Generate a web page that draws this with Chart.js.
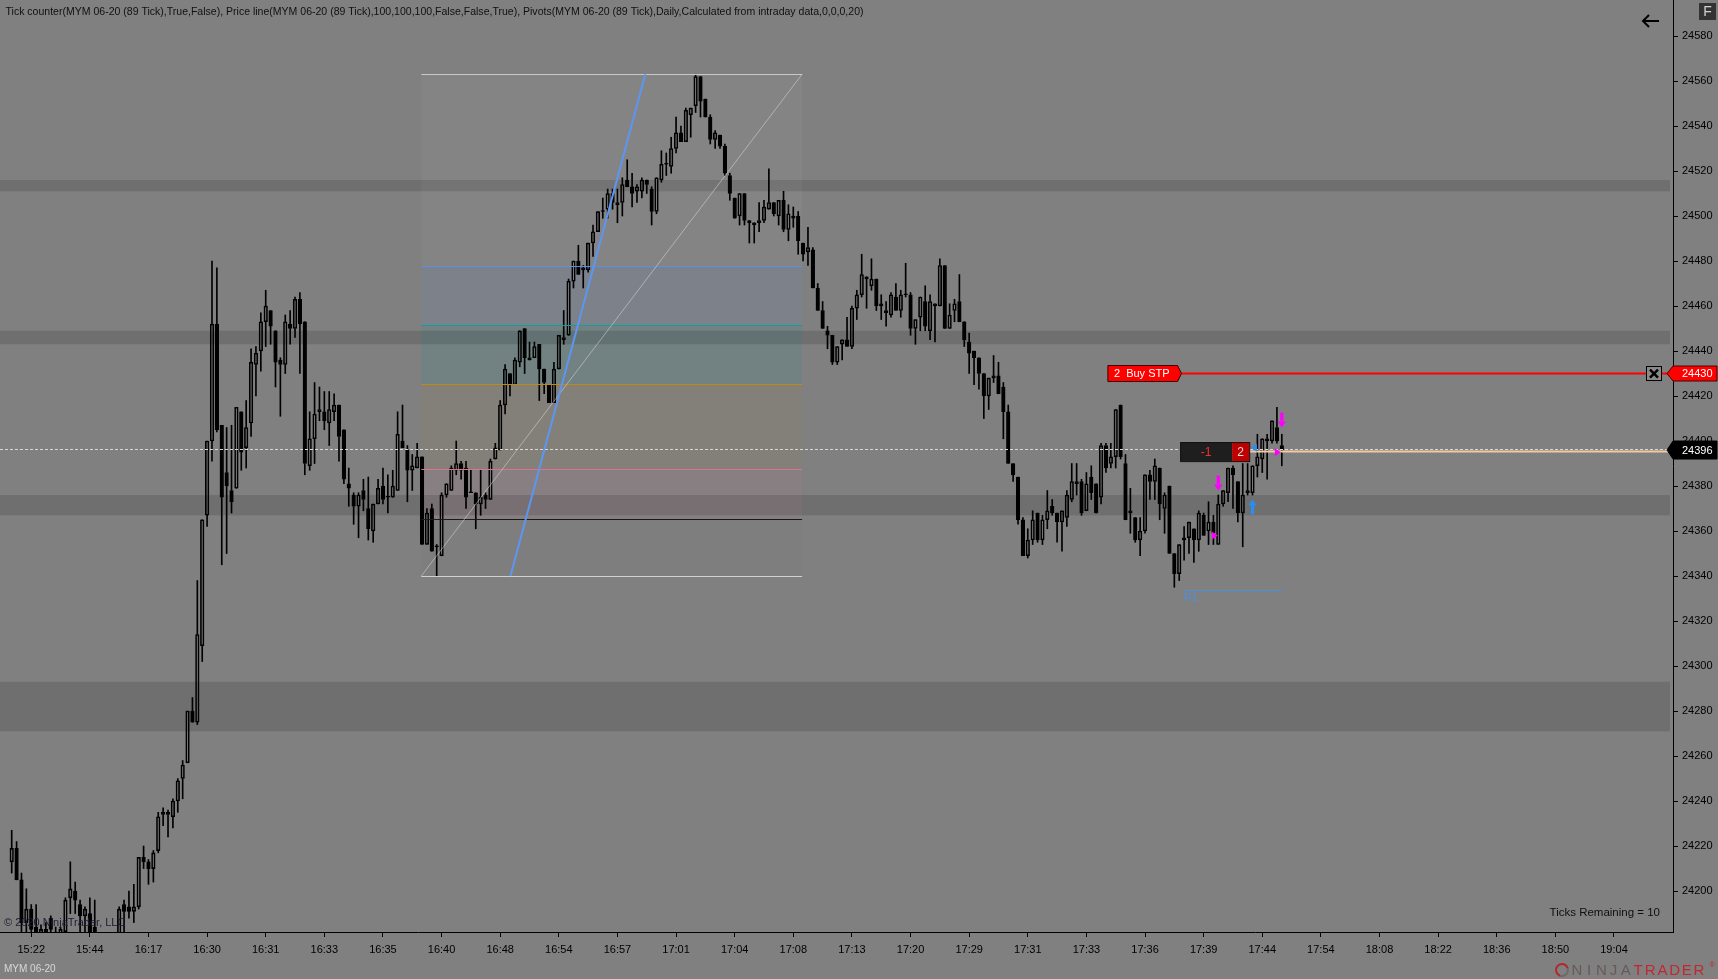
<!DOCTYPE html>
<html><head><meta charset="utf-8">
<script src="https://cdn.jsdelivr.net/npm/chart.js@4/dist/chart.umd.min.js"></script>
<style>html,body{margin:0;padding:0;background:#808080;overflow:hidden}canvas{display:block}</style>
</head><body>
<canvas id="c" width="1718" height="979" style="width:1718px;height:979px"></canvas>
<script>
// ---------------- DATA ----------------
const open = [
24213,24219,24205,24186,24192,24184,24181,24183,24188,24180,
24178,24182,24197,24200,24194,24189,24190,24184,24178,24172,
24175,24170,24180,24194,24193,24191,24193,24215,24213,24210,
24218,24234,24235,24233,24240,24250,24257,24280,24275,24309,
24367,24400,24452,24407,24386,24378,24379,24413,24397,24408,
24434,24440,24453,24458,24449,24436,24434,24452,24450,24463,
24453,24389,24401,24413,24413,24408,24413,24416,24405,24381,
24376,24371,24378,24370,24360,24372,24380,24375,24375,24378,
24400,24396,24387,24388,24393,24354,24370,24353,24349,24376,
24378,24387,24390,24388,24377,24377,24372,24376,24374,24392,
24396,24416,24430,24425,24435,24450,24436,24437,24443,24432,
24425,24417,24432,24445,24447,24471,24480,24476,24476,24488,
24493,24502,24503,24510,24505,24506,24516,24513,24511,24511,
24516,24512,24502,24516,24523,24522,24530,24537,24533,24545,
24549,24562,24552,24544,24534,24536,24531,24518,24508,24500,
24510,24498,24497,24497,24498,24503,24506,24500,24507,24494,
24500,24500,24488,24484,24485,24468,24458,24449,24447,24435,
24443,24445,24442,24459,24465,24473,24469,24472,24461,24458,
24456,24464,24458,24465,24465,24450,24455,24462,24449,24461,
24460,24478,24450,24458,24462,24453,24444,24440,24437,24430,
24420,24428,24429,24424,24413,24390,24384,24365,24349,24356,
24368,24356,24365,24371,24368,24364,24366,24374,24382,24382,
24369,24384,24381,24375,24398,24390,24393,24416,24390,24368,
24366,24356,24360,24385,24382,24388,24370,24380,24350,24341,
24356,24357,24361,24356,24367,24360,24364,24354,24372,24377,
24388,24382,24368,24377,24377,24389,24392,24401,24400,24406,
24398];
const high = [
24227,24222,24208,24201,24194,24194,24185,24186,24189,24184,
24184,24197,24213,24204,24196,24193,24197,24196,24181,24178,
24180,24179,24193,24196,24200,24203,24215,24220,24214,24218,
24235,24237,24236,24241,24250,24258,24280,24286,24338,24365,
24400,24480,24477,24407,24406,24407,24415,24413,24418,24441,
24442,24457,24467,24458,24449,24437,24456,24458,24464,24466,
24453,24413,24426,24424,24422,24422,24421,24416,24405,24388,
24377,24377,24383,24384,24372,24383,24388,24385,24387,24413,
24416,24398,24394,24399,24393,24370,24372,24354,24377,24381,
24389,24400,24391,24391,24387,24377,24387,24377,24392,24399,
24418,24434,24430,24437,24449,24450,24444,24444,24443,24432,
24425,24435,24447,24458,24472,24480,24487,24478,24488,24496,
24502,24508,24512,24512,24512,24517,24525,24519,24514,24517,
24516,24513,24517,24529,24528,24535,24544,24540,24548,24548,
24563,24562,24552,24545,24538,24536,24532,24519,24508,24510,
24510,24498,24497,24506,24507,24521,24506,24507,24511,24505,
24504,24502,24488,24495,24486,24470,24462,24451,24447,24442,
24445,24455,24460,24467,24483,24473,24481,24472,24465,24462,
24466,24470,24467,24479,24466,24454,24464,24469,24465,24461,
24481,24478,24461,24463,24474,24453,24448,24440,24437,24430,
24428,24438,24435,24426,24416,24390,24384,24366,24361,24369,
24368,24367,24378,24374,24368,24369,24378,24390,24390,24383,
24386,24389,24381,24399,24399,24399,24414,24416,24394,24379,
24366,24366,24385,24387,24392,24388,24377,24380,24350,24354,
24362,24364,24361,24369,24368,24373,24367,24376,24378,24388,
24389,24382,24390,24390,24389,24403,24401,24403,24409,24415,
24403];
const low = [
24208,24205,24180,24180,24178,24178,24176,24175,24178,24174,
24175,24180,24190,24190,24180,24180,24178,24176,24168,24165,
24168,24166,24178,24182,24188,24186,24192,24210,24203,24204,
24217,24229,24224,24228,24235,24241,24257,24275,24274,24302,
24362,24391,24404,24345,24350,24368,24379,24387,24388,24402,
24420,24431,24442,24443,24424,24411,24430,24443,24446,24430,
24385,24387,24390,24409,24405,24398,24409,24391,24381,24371,
24363,24357,24369,24356,24355,24372,24372,24368,24375,24378,
24397,24373,24378,24388,24354,24354,24351,24340,24349,24375,
24378,24385,24383,24370,24377,24361,24367,24370,24374,24392,
24396,24412,24420,24425,24433,24430,24436,24437,24418,24421,
24417,24417,24432,24443,24447,24468,24474,24468,24475,24482,
24493,24499,24499,24503,24497,24500,24513,24504,24506,24508,
24510,24496,24501,24515,24518,24519,24528,24533,24533,24535,
24546,24544,24544,24532,24530,24530,24518,24507,24499,24496,
24496,24488,24488,24493,24497,24503,24500,24496,24493,24489,
24495,24483,24480,24478,24468,24458,24450,24441,24434,24434,
24436,24442,24441,24454,24464,24459,24467,24458,24454,24451,
24455,24458,24455,24464,24447,24443,24449,24449,24445,24444,
24460,24450,24450,24453,24453,24442,24430,24425,24423,24410,
24414,24426,24421,24401,24390,24382,24363,24349,24348,24354,
24355,24354,24361,24367,24355,24351,24362,24373,24376,24367,
24369,24374,24368,24372,24386,24388,24388,24392,24365,24359,
24355,24349,24359,24374,24374,24365,24359,24350,24335,24338,
24347,24350,24346,24351,24358,24354,24354,24354,24371,24373,
24370,24364,24353,24376,24376,24384,24386,24383,24399,24399,
24389];
const close = [
24219,24205,24186,24192,24183,24182,24183,24180,24183,24178,
24183,24196,24201,24196,24189,24192,24182,24180,24172,24175,
24170,24178,24192,24191,24191,24193,24215,24213,24210,24217,
24233,24235,24234,24240,24249,24256,24280,24275,24314,24365,
24400,24452,24405,24375,24380,24373,24415,24395,24406,24435,
24439,24453,24460,24451,24435,24434,24453,24450,24463,24452,
24390,24401,24412,24414,24409,24414,24416,24402,24383,24379,
24371,24376,24374,24361,24372,24379,24374,24375,24380,24403,
24397,24387,24389,24393,24354,24368,24351,24353,24376,24381,
24388,24390,24387,24375,24377,24372,24375,24374,24391,24397,
24416,24432,24425,24436,24449,24437,24437,24442,24432,24426,
24417,24432,24447,24446,24471,24480,24474,24477,24488,24493,
24502,24502,24510,24506,24506,24514,24513,24510,24513,24516,
24514,24502,24517,24523,24523,24530,24537,24533,24547,24548,
24562,24551,24544,24534,24537,24531,24519,24510,24499,24510,
24498,24497,24496,24498,24504,24506,24501,24507,24494,24501,
24499,24489,24483,24486,24468,24458,24450,24447,24435,24442,
24445,24442,24459,24465,24474,24472,24472,24460,24460,24457,
24465,24458,24465,24465,24450,24454,24464,24451,24462,24460,
24478,24450,24456,24461,24453,24445,24439,24437,24430,24420,
24428,24429,24421,24413,24390,24385,24365,24349,24356,24365,
24356,24365,24369,24368,24364,24369,24376,24382,24381,24368,
24381,24377,24368,24398,24388,24393,24414,24393,24365,24369,
24356,24360,24385,24382,24389,24372,24376,24350,24341,24354,
24357,24364,24356,24368,24358,24364,24359,24372,24378,24388,
24385,24368,24376,24378,24389,24393,24401,24400,24409,24400,
24396];

const timeLabels = ['15:22','15:44','16:17','16:30','16:31','16:33','16:35','16:40','16:48','16:54','16:57','17:01','17:04','17:08','17:13','17:20','17:29','17:31','17:33','17:36','17:39','17:44','17:54','18:08','18:22','18:36','18:50','19:04'];
const priceTicks = [24200,24220,24240,24260,24280,24300,24320,24340,24360,24380,24400,24420,24440,24460,24480,24500,24520,24540,24560,24580];
const pivotBandHigh = [24516, 24449, 24376, 24293];
const pivotBandLow  = [24511, 24443, 24367, 24271];
const fibLevels = [0, 0.382, 0.5, 0.618, 0.786, 0.886, 1];
const fibAnchorIdx = [83.85, 161.8];
const fibAnchorPrice = [24340, 24563];
const trendIdx = [102.1, 129.7];
const trendPrice = [24340, 24563];
const lastPrice = 24396;
const buyStopPrice = 24430;
const buyStopQty = 2;
const positionQty = 2;
const positionPnl = -1;
const avgPrice = 24395.3;
const pivotR1 = 24334;
const pivotR1Idx = [240, 260];
const buyArrowIdx = [254];  const buyArrowPrice = [24374];
const sellArrowIdx = [247, 260]; const sellArrowPrice = [24378, 24406];
const sellFillIdx = [246.3, 259.2]; const sellFillPrice = [24358, 24395];
const buyFillIdx = [254.3]; const buyFillPrice = [24397];
const ticksRemaining = 10;
const titleText = 'Tick counter(MYM 06-20 (89 Tick),True,False), Price line(MYM 06-20 (89 Tick),100,100,100,False,False,True), Pivots(MYM 06-20 (89 Tick),Daily,Calculated from intraday data,0,0,0,20)';

// ---------------- LAYOUT / STYLE ----------------
const FONT = "'Liberation Sans', Arial, sans-serif";
const X_MIN = -2.395, X_MAX = 340.08;
const Y_MIN = 24181.8, Y_MAX = 24596;
const FIRST_TICK = 4, TICK_STEP = 12;
const tickIdx = timeLabels.map((_, k) => FIRST_TICK + TICK_STEP * k);
const ORDER_LABEL_IDX = 224.4;
const POS_BOX_IDX = 239.2;
const fibFill = ['rgba(215,215,215,0.05)','rgba(100,149,237,0.09)','rgba(0,150,145,0.11)','rgba(190,140,40,0.06)','rgba(230,110,150,0.07)','rgba(0,0,0,0.01)'];
const fibLine = ['#c8c8c8','#5a8fe6','#10a0a0','#c08a10','#e07090','#1a1a1a','#d2d2d2'];

const idx = open.map((_, i) => i);
const upperWick = idx.map(i => ({x: i, y: [Math.max(open[i], close[i]), high[i]]}));
const lowerWick = idx.map(i => ({x: i, y: [low[i], Math.min(open[i], close[i])]}));
const bodies = idx.map(i => ({x: i, y: [open[i], close[i]]}));
const bodyFill = idx.map(i => close[i] >= open[i] ? 'rgba(0,0,0,0)' : '#000');

function drawArrow(ctx, x, yTip, dir, color) {
  // dir = 1 : pointing down (tip at bottom); -1 : pointing up
  const len = 15, headH = 6, headW = 4.2, shaftW = 1.6;
  const yTail = yTip - dir * len, yHead = yTip - dir * headH;
  ctx.fillStyle = color;
  ctx.fillRect(x - shaftW, Math.min(yTail, yHead), shaftW * 2, Math.abs(yHead - yTail));
  ctx.beginPath();
  ctx.moveTo(x - headW, yHead); ctx.lineTo(x + headW, yHead); ctx.lineTo(x, yTip); ctx.closePath();
  ctx.fill();
}
function drawTri(ctx, x, y, dir, color) { // dir 1 = pointing right, -1 = left
  ctx.fillStyle = color;
  ctx.beginPath();
  ctx.moveTo(x - dir * 3, y - 4); ctx.lineTo(x + dir * 3, y); ctx.lineTo(x - dir * 3, y + 4); ctx.closePath();
  ctx.fill();
}

const ntPlugin = {
  id: 'nt',
  beforeDraw(chart) {
    const c = chart.ctx;
    c.save(); c.fillStyle = '#808080'; c.fillRect(0, 0, chart.width, chart.height); c.restore();
  },
  beforeDatasetsDraw(chart) {
    const c = chart.ctx, xs = chart.scales.x, ys = chart.scales.y, a = chart.chartArea;
    c.save();
    c.beginPath(); c.rect(a.left, a.top, a.right - a.left, a.bottom - a.top); c.clip();
    // pivot bands
    c.fillStyle = 'rgba(96,96,96,0.55)';
    pivotBandHigh.forEach((h, k) => {
      const y1 = ys.getPixelForValue(h), y2 = ys.getPixelForValue(pivotBandLow[k]);
      c.fillRect(a.left, y1, (a.right - 3) - a.left, y2 - y1);
    });
    // fib fills
    const x0 = xs.getPixelForValue(fibAnchorIdx[0]), x1 = xs.getPixelForValue(fibAnchorIdx[1]);
    const rng = fibAnchorPrice[1] - fibAnchorPrice[0];
    for (let k = 0; k < fibLevels.length - 1; k++) {
      const yA = ys.getPixelForValue(fibAnchorPrice[1] - fibLevels[k] * rng);
      const yB = ys.getPixelForValue(fibAnchorPrice[1] - fibLevels[k + 1] * rng);
      c.fillStyle = fibFill[k];
      c.fillRect(x0, yA, x1 - x0, yB - yA);
    }
    c.restore();
  },
  afterDatasetsDraw(chart) {
    const c = chart.ctx, xs = chart.scales.x, ys = chart.scales.y, a = chart.chartArea;
    const X = v => xs.getPixelForValue(v), Y = v => ys.getPixelForValue(v);
    c.save();
    c.beginPath(); c.rect(a.left, a.top, a.right - a.left, a.bottom - a.top); c.clip();
    // fib lines
    const x0 = X(fibAnchorIdx[0]), x1 = X(fibAnchorIdx[1]);
    const rng = fibAnchorPrice[1] - fibAnchorPrice[0];
    fibLevels.forEach((lv, k) => {
      const y = Math.round(Y(fibAnchorPrice[1] - lv * rng)) + 0.5;
      c.strokeStyle = fibLine[k]; c.lineWidth = 1;
      c.beginPath(); c.moveTo(x0, y); c.lineTo(x1, y); c.stroke();
    });
    c.strokeStyle = 'rgba(215,215,215,0.55)'; c.lineWidth = 1;
    c.beginPath(); c.moveTo(x0, Y(fibAnchorPrice[0])); c.lineTo(x1, Y(fibAnchorPrice[1])); c.stroke();
    // trend line
    c.strokeStyle = '#5b97f2'; c.lineWidth = 2;
    c.beginPath(); c.moveTo(X(trendIdx[0]), Y(trendPrice[0])); c.lineTo(X(trendIdx[1]), Y(trendPrice[1])); c.stroke();
    // price line (dashed)
    const yLast = Math.round(Y(lastPrice)) - 0.5;
    c.strokeStyle = '#d8d8d8'; c.lineWidth = 1; c.setLineDash([3, 2]);
    c.beginPath(); c.moveTo(a.left, yLast); c.lineTo(a.right, yLast); c.stroke();
    c.setLineDash([]);
    // pivot R1
    const yR1 = Math.round(Y(pivotR1)) + 0.5;
    c.strokeStyle = '#4a90e2'; c.lineWidth = 1;
    c.beginPath(); c.moveTo(X(pivotR1Idx[0]), yR1); c.lineTo(X(pivotR1Idx[1]), yR1); c.stroke();
    c.fillStyle = '#4a90e2'; c.font = '11px ' + FONT; c.textBaseline = 'top'; c.textAlign = 'left';
    c.fillText('R1', X(pivotR1Idx[0]), yR1 + 2);
    // buy stop order line + label
    const yStop = Y(buyStopPrice);
    const lx = X(ORDER_LABEL_IDX);
    c.font = '11px ' + FONT;
    const lbl = buyStopQty + '  Buy STP';
    const lw = c.measureText(lbl).width + 14;
    c.strokeStyle = '#ff0000'; c.lineWidth = 2;
    c.beginPath(); c.moveTo(lx + lw + 4, yStop); c.lineTo(a.right, yStop); c.stroke();
    c.fillStyle = '#ff0000'; c.strokeStyle = '#3a0000'; c.lineWidth = 1;
    c.beginPath();
    c.moveTo(lx, yStop - 8); c.lineTo(lx + lw, yStop - 8); c.lineTo(lx + lw + 4, yStop); c.lineTo(lx + lw, yStop + 8); c.lineTo(lx, yStop + 8); c.closePath();
    c.fill(); c.stroke();
    c.fillStyle = '#ffffff'; c.textBaseline = 'middle';
    c.fillText(lbl, lx + 6, yStop + 0.5);
    // position box
    const bx = X(POS_BOX_IDX), yPos = Y(avgPrice);
    const bw1 = 52, bw2 = 17, bh = 19;
    c.fillStyle = '#1e1e1e'; c.fillRect(bx, yPos - bh / 2, bw1, bh);
    c.fillStyle = '#c00000'; c.fillRect(bx + bw1, yPos - bh / 2, bw2, bh);
    c.strokeStyle = '#111'; c.lineWidth = 1; c.strokeRect(bx + 0.5, yPos - bh / 2 + 0.5, bw1 + bw2, bh);
    c.textAlign = 'center'; c.font = '12px ' + FONT;
    c.fillStyle = '#ff2a2a'; c.fillText(String(positionPnl), bx + bw1 / 2, yPos + 1);
    c.fillStyle = '#dddddd'; c.fillText(String(positionQty), bx + bw1 + bw2 / 2, yPos + 1);
    // avg price line
    c.strokeStyle = '#f2c9a0'; c.lineWidth = 2;
    c.beginPath(); c.moveTo(bx + bw1 + bw2 + 1, yPos); c.lineTo(a.right, yPos); c.stroke();
    // markers
    buyArrowIdx.forEach((v, k) => drawArrow(c, X(v), Y(buyArrowPrice[k]), -1, '#2a8df0'));
    sellArrowIdx.forEach((v, k) => drawArrow(c, X(v), Y(sellArrowPrice[k]), 1, '#ff00ff'));
    sellFillIdx.forEach((v, k) => drawTri(c, X(v), Y(sellFillPrice[k]), 1, '#ff00ff'));
    buyFillIdx.forEach((v, k) => drawTri(c, X(v), Y(buyFillPrice[k]), -1, '#2a8df0'));
    c.restore();
  },
  afterDraw(chart) {
    const c = chart.ctx, ys = chart.scales.y, a = chart.chartArea;
    c.save();
    // title
    c.font = '11px ' + FONT; c.fillStyle = '#101010'; c.textBaseline = 'middle'; c.textAlign = 'left';
    const tw = c.measureText(titleText).width;
    c.save(); c.translate(5.5, 12); c.scale(Math.min(1, 858 / tw), 1); c.fillText(titleText, 0, 0); c.restore();
    // copyright
    c.fillStyle = '#1d1d30'; c.font = '11px ' + FONT;
    c.fillText('\u00A9 2020 NinjaTrader, LLC', 4, 923);
    // ticks remaining
    c.textAlign = 'right'; c.fillStyle = '#101010'; c.font = '11.5px ' + FONT;
    c.fillText('Ticks Remaining = ' + ticksRemaining, a.right - 13, 913);
    // instrument
    c.textAlign = 'left'; c.fillStyle = '#d8d8d8'; c.font = '10px ' + FONT;
    c.fillText('MYM 06-20', 4, 969);
    // logo
    c.strokeStyle = '#b0282e'; c.lineWidth = 2;
    c.beginPath(); c.arc(1562, 970, 6, Math.PI * 0.6, Math.PI * 1.9); c.stroke();
    c.strokeStyle = '#6a6a6a';
    c.beginPath(); c.arc(1562, 970, 6, Math.PI * 1.9, Math.PI * 2.6); c.stroke();
    c.font = '15px ' + FONT; c.textAlign = 'center';
    const word = 'NINJATRADER';
    for (let k = 0; k < word.length; k++) {
      c.fillStyle = k < 5 ? '#675959' : '#c4262f';
      c.fillText(word[k], 1577 + 12.2 * k, 971);
    }
    c.font = '7px ' + FONT; c.fillStyle = '#c4262f'; c.fillText('\u00AE', 1712, 965);
    // F box
    c.fillStyle = '#333333'; c.fillRect(1699, 3, 17, 17);
    c.fillStyle = '#d0d0d0'; c.font = '14px ' + FONT; c.fillText('F', 1707.5, 12);
    // back arrow
    c.strokeStyle = '#000'; c.lineWidth = 2;
    c.beginPath(); c.moveTo(1643, 21); c.lineTo(1659, 21); c.moveTo(1649, 15); c.lineTo(1643, 21); c.lineTo(1649, 27); c.stroke();
    // close-order box
    const yStop = ys.getPixelForValue(buyStopPrice);
    c.fillStyle = '#8a8a8a'; c.fillRect(1646, yStop - 7.5, 16, 15);
    c.strokeStyle = '#000'; c.lineWidth = 1; c.strokeRect(1646.5, yStop - 7, 15, 14);
    c.lineWidth = 2.5;
    c.beginPath(); c.moveTo(1650, yStop - 4); c.lineTo(1658, yStop + 4); c.moveTo(1658, yStop - 4); c.lineTo(1650, yStop + 4); c.stroke();
    // price tags on axis
    function tag(y, h, fill, stroke, text) {
      c.fillStyle = fill; c.strokeStyle = stroke; c.lineWidth = 1;
      c.beginPath();
      c.moveTo(a.right - 6, y); c.lineTo(a.right, y - h / 2); c.lineTo(1717, y - h / 2); c.lineTo(1717, y + h / 2); c.lineTo(a.right, y + h / 2); c.closePath();
      c.fill(); c.stroke();
      c.fillStyle = '#ffffff'; c.font = '11px ' + FONT; c.textAlign = 'left'; c.textBaseline = 'middle';
      c.fillText(text, a.right + 9, y + 0.5);
    }
    tag(yStop, 15, '#ff0000', '#500000', String(buyStopPrice));
    tag(ys.getPixelForValue(lastPrice), 18, '#000000', '#000000', String(lastPrice));
    c.restore();
  }
};

new Chart(document.getElementById('c'), {
  type: 'bar',
  data: {
    datasets: [
      {data: upperWick, backgroundColor: '#000', borderWidth: 0, barThickness: 1, grouped: false, clip: 0},
      {data: lowerWick, backgroundColor: '#000', borderWidth: 0, barThickness: 1, grouped: false, clip: 0},
      {data: bodies, backgroundColor: bodyFill, borderColor: '#000', borderWidth: 1, borderSkipped: false, barThickness: 3.6, minBarLength: 1, grouped: false, clip: 0}
    ]
  },
  options: {
    responsive: false, animation: false, devicePixelRatio: 1, events: [],
    layout: {padding: 0},
    plugins: {legend: {display: false}, tooltip: {enabled: false}, title: {display: false}},
    scales: {
      x: {
        type: 'linear', min: X_MIN, max: X_MAX, offset: false, bounds: 'data',
        afterBuildTicks: ax => { ax.ticks = tickIdx.map(v => ({value: v})); },
        ticks: {autoSkip: false, maxRotation: 0, minRotation: 0, color: '#000', font: {family: FONT, size: 11}, padding: 6,
          callback: (v, i) => timeLabels[i]},
        grid: {display: true, drawOnChartArea: false, drawTicks: true, tickLength: 5, color: '#000', offset: false},
        border: {display: true, color: '#000', width: 1},
        afterFit: ax => { ax.height = 47; ax.paddingLeft = 0; ax.paddingRight = 0; ax.paddingTop = 0; ax.paddingBottom = 0; }
      },
      y: {
        type: 'linear', position: 'right', min: Y_MIN, max: Y_MAX, bounds: 'data',
        afterBuildTicks: ax => { ax.ticks = priceTicks.map(v => ({value: v})); },
        ticks: {color: '#000', font: {family: FONT, size: 11}, padding: 4, callback: v => String(v)},
        grid: {display: true, drawOnChartArea: false, drawTicks: true, tickLength: 5, color: '#000'},
        border: {display: true, color: '#000', width: 1},
        afterFit: ax => { ax.width = 45; ax.paddingLeft = 0; ax.paddingRight = 0; ax.paddingTop = 0; ax.paddingBottom = 0; }
      }
    }
  },
  plugins: [ntPlugin]
});
</script>
</body></html>
